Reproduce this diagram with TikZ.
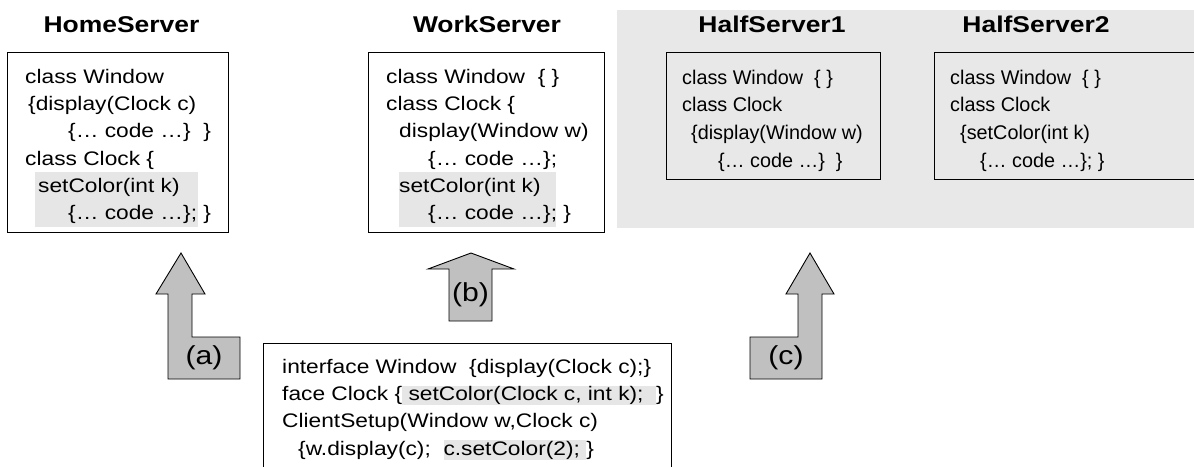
\documentclass[tikz,border=0pt]{standalone}
\usepackage{fontspec}
\setmainfont{Liberation Sans}[FakeStretch=1.16]
\newfontfamily\halffont{Liberation Sans}
\usetikzlibrary{positioning}
\definecolor{bggray}{HTML}{E8E8E8}
\definecolor{hlgray}{HTML}{E6E6E6}
\definecolor{arrowgray}{HTML}{C0C0C0}
\newcommand{\hlbox}[1]{{\setlength{\fboxsep}{0pt}\colorbox{hlgray}{\rule[-4.5pt]{0pt}{19.5pt}#1}}}
\newcommand{\firstline}{\rule{0pt}{17pt}}

\begin{document}
\begin{tikzpicture}[x=1pt,y=-1pt,line join=miter]
	\tikzset{every node/.style={inner sep=0pt},
		code/.style={align=left,anchor=north west,font=\fontsize{19.6}{27.3}\selectfont},
		halfcode/.style={code,font=\halffont\fontsize{19.8}{27.7}\selectfont},
		title/.style={anchor=base,font=\fontsize{22.8}{30}\selectfont\bfseries},
		box/.style={draw,line width=1.2pt,anchor=north west},
		blockarrow/.style={fill=arrowgray,draw=black,line width=0.9pt},
		tag/.style={font=\fontsize{26}{30}\selectfont}}
	\useasboundingbox (0,0) rectangle (1194,466);
	% grey area of the two half servers
	\fill[bggray] (617,10) rectangle (1210,228);
	\foreach \n/\x/\t in {hometitle/121.5/HomeServer,worktitle/487/WorkServer,halfonetitle/772/HalfServer1,halftwotitle/1036/HalfServer2}
	\node[title] (\n) at (\x,32.5) {\t};
	% shaded setColor parts
	\fill[hlgray] (35,172) rectangle (198,227);
	\fill[hlgray] (399,172) rectangle (556,227);
	% server boxes
	\node[box,minimum width=221pt,minimum height=180pt] (home) at (7,52) {};
	\node[box,minimum width=236pt,minimum height=180pt] (work) at (368,52) {};
	\node[box,minimum width=214pt,minimum height=127pt] (halfone) at (666,52) {};
	\node[box,minimum width=270pt,minimum height=127pt] (halftwo) at (934,52) {};
	\node[box,minimum width=408pt,minimum height=140pt] (client) at (263,343) {};
	% code
	\node[code,below right=14pt and 18pt of home.north west] (homecode) {\firstline class Window\\
		\hspace*{3pt}\{display(Clock c)\\
		\hspace*{43pt}\{… code …\}\ \ \}\\
		class Clock \{\\
		\hspace*{13pt}setColor(int k)\\
		\hspace*{43pt}\{… code …\}; \}};
	\node[code,below right=14pt and 18pt of work.north west] (workcode) {\firstline class Window\ \ \{ \}\\
		class Clock \{\\
		\hspace*{13pt}display(Window w)\\
		\hspace*{42pt}\{… code …\};\\
		\hspace*{13pt}setColor(int k)\\
		\hspace*{42pt}\{… code …\}; \}};
	\node[halfcode,below right=15pt and 16pt of halfone.north west] (halfonecode) {\firstline class Window\ \ \{ \}\\
		class Clock\\
		\hspace*{9pt}\{display(Window w)\\
		\hspace*{36pt}\{… code …\}\ \ \}};
	\node[halfcode,below right=15pt and 16pt of halftwo.north west] (halftwocode) {\firstline class Window\ \ \{ \}\\
		class Clock\\
		\hspace*{10pt}\{setColor(int k)\\
		\hspace*{30pt}\{… code …\}; \}};
	\node[code,below right=13pt and 19pt of client.north west] (clientcode) {\firstline interface Window\ \ \{display(Clock c);\}\\
		face Clock \{\hlbox{\ setColor(Clock c, int k);\ \ }\}\\
		ClientSetup(Window w,Clock c)\\
		\hspace*{16pt}\{w.display(c);\ \ \hlbox{c.setColor(2);\ }\}};
	% arrows (a), (b), (c)
	\draw[blockarrow] (181,253) -- (205,294) -- (192,294) -- (192,337) -- (240,337) -- (240,379) -- (168,379) -- (168,294) -- (156,294) -- cycle;
	\node[tag] (taga) at (204,358) {(a)};
	\draw[blockarrow] (471,253) -- (514,269) -- (492,269) -- (492,321) -- (449,321) -- (449,269) -- (428,269) -- cycle;
	\node[tag] (tagb) at (470.5,295) {(b)};
	\draw[blockarrow] (810,253) -- (834,294) -- (822,294) -- (822,379) -- (750,379) -- (750,337) -- (798,337) -- (798,294) -- (786,294) -- cycle;
	\node[tag] (tagc) at (786,358) {(c)};
\end{tikzpicture}
\end{document}
